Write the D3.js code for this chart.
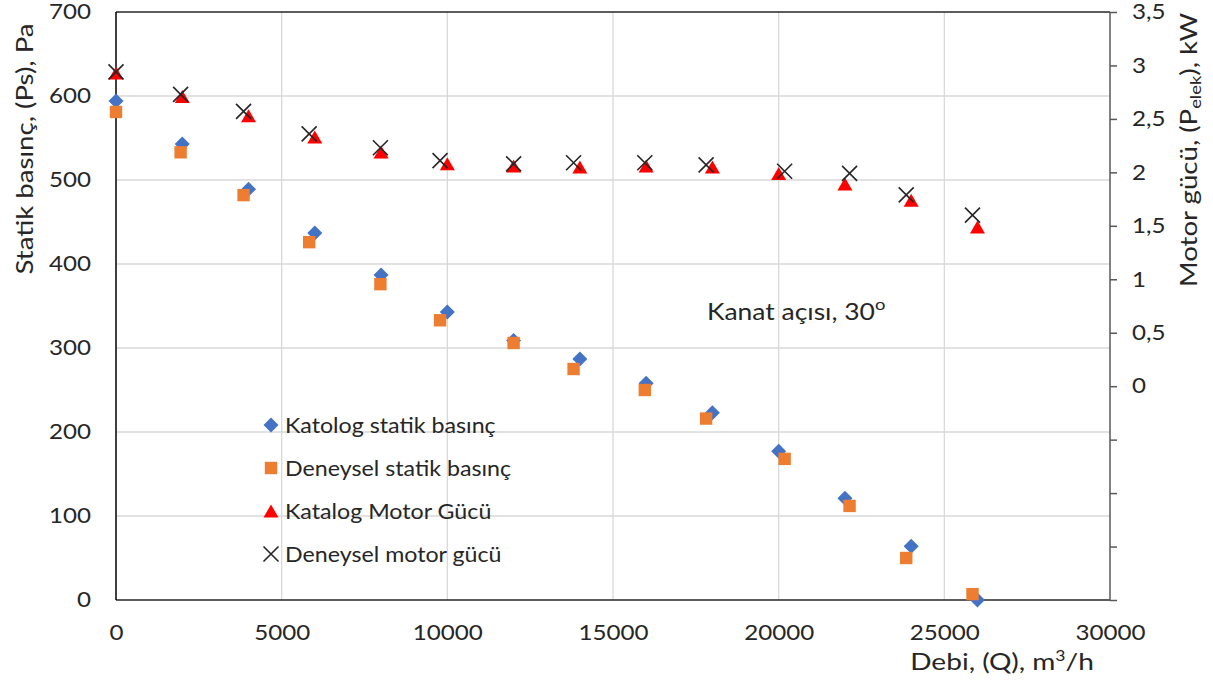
<!DOCTYPE html>
<html>
<head>
<meta charset="utf-8">
<script src="https://cdn.jsdelivr.net/npm/d3@7"></script>
<style>
  html, body { margin: 0; padding: 0; background: #fff; }
  svg { display: block; }
  text { font-family: Lato, "Open Sans", sans-serif; fill: #262626; }
</style>
</head>
<body>
<svg id="chart" width="1213" height="683"></svg>
<script>
// Flow rate (m3/h) for the catalogue points and the measured points
const qKatalog = [0, 2000, 4000, 6000, 8000, 10000, 12000, 14000, 16000, 18000, 20000, 22000, 24000, 26000];
const qDeney   = [0, 1950, 3850, 5830, 7980, 9780, 12000, 13810, 15960, 17810, 20180, 22140, 23850, 25850];

// Static pressure, Pa (left axis)
const psKatalog = [594, 543, 489, 437, 387, 343, 309, 287, 258, 223, 177, 121, 64, 0];
const psDeney   = [581, 533, 482, 426, 376, 333, 306, 275, 250, 216, 168, 112, 50, 7];

// Motor power, kW (right axis)
const pwKatalog = [2.93, 2.71, 2.53, 2.33, 2.19, 2.08, 2.06, 2.05, 2.06, 2.05, 1.99, 1.89, 1.74, 1.49];
const pwDeney   = [2.94, 2.73, 2.57, 2.36, 2.23, 2.11, 2.08, 2.09, 2.09, 2.07, 2.01, 1.99, 1.79, 1.60];

// Axis ticks
const xTicks  = [0, 5000, 10000, 15000, 20000, 25000, 30000];
const yLTicks = [0, 100, 200, 300, 400, 500, 600, 700];
const yRTicks = [-2, -1.5, -1, -0.5, 0, 0.5, 1, 1.5, 2, 2.5, 3, 3.5];

// Legend entries
const legendLabels = ["Katolog statik basınç", "Deneysel statik basınç", "Katalog Motor Gücü", "Deneysel motor gücü"];

const svg = d3.select("#chart");
const L = 116, R = 1110, T = 12, B = 600;

const x  = d3.scaleLinear().domain([0, 30000]).range([L, R]);
const yL = d3.scaleLinear().domain([0, 700]).range([B, T]);
const yR = d3.scaleLinear().domain([-2, 3.5]).range([B, T]);

// widen glyphs horizontally
function stretch(sel, k) {
  sel.each(function () {
    const w = this.getComputedTextLength();
    this.setAttribute("textLength", w * k);
    this.setAttribute("lengthAdjust", "spacingAndGlyphs");
  });
}

// gridlines
const grid = svg.append("g").attr("stroke", "#d9d9d9").attr("stroke-width", 1.3);
grid.selectAll("line.h").data(yLTicks.filter(v => v > 0 && v < 700)).join("line")
  .attr("x1", L).attr("x2", R).attr("y1", d => yL(d)).attr("y2", d => yL(d));
grid.selectAll("line.v").data(xTicks.filter(v => v > 0 && v < 30000)).join("line")
  .attr("x1", d => x(d)).attr("x2", d => x(d)).attr("y1", T).attr("y2", B);

// axes
const fmtR = v => (v < 0 ? "" : String(v).replace(".", ","));

const gx = svg.append("g").attr("transform", `translate(0,${B})`)
  .call(d3.axisBottom(x).tickValues(xTicks).tickSize(0).tickPadding(25).tickFormat(d3.format("d")));
const gl = svg.append("g").attr("transform", `translate(${L},0)`)
  .call(d3.axisLeft(yL).tickValues(yLTicks).tickSize(0).tickPadding(25).tickFormat(d3.format("d")));
const gr = svg.append("g").attr("transform", `translate(${R},0)`)
  .call(d3.axisRight(yR).tickValues(yRTicks).tickSize(7).tickPadding(15).tickFormat(fmtR));

[gx, gl, gr].forEach(g => {
  g.select(".domain").remove();
  g.selectAll("text").attr("font-size", 21).attr("fill", "#262626").attr("font-family", "Lato");
});
gr.selectAll(".tick line").attr("stroke", "#595959").attr("stroke-width", 1.5);
[gx, gl, gr].forEach(g => stretch(g.selectAll("text"), 1.15));

// plot frame
svg.append("line").attr("x1", L).attr("x2", R).attr("y1", T).attr("y2", T).attr("stroke", "#262626").attr("stroke-width", 1.5);
svg.append("line").attr("x1", L).attr("x2", R).attr("y1", B).attr("y2", B).attr("stroke", "#262626").attr("stroke-width", 1.5);
svg.append("line").attr("x1", L).attr("x2", L).attr("y1", T).attr("y2", B).attr("stroke", "#000").attr("stroke-width", 1.5);
svg.append("line").attr("x1", R).attr("x2", R).attr("y1", T).attr("y2", B).attr("stroke", "#595959").attr("stroke-width", 1.5);

// marker shapes (centred on the data point)
const diamond  = s => `M0,${-s}L${s},0L0,${s}L${-s},0Z`;
const square   = s => `M${-s},${-s}H${s}V${s}H${-s}Z`;
const triangle = (w, h) => `M0,${-h / 2}L${w / 2},${h / 2}L${-w / 2},${h / 2}Z`;
const cross    = s => `M${-s},${-s}L${s},${s}M${s},${-s}L${-s},${s}`;

const series = [
  { q: qKatalog, v: psKatalog, y: yL, path: diamond(7.5), fill: "#4472C4", stroke: "none" },
  { q: qDeney,   v: psDeney,   y: yL, path: square(6.2),  fill: "#ED7D31", stroke: "none" },
  { q: qKatalog, v: pwKatalog, y: yR, path: triangle(15, 13), fill: "#FF0000", stroke: "none" },
  { q: qDeney,   v: pwDeney,   y: yR, path: cross(7.5),   fill: "none", stroke: "#262626" }
];

series.forEach(s => {
  svg.append("g").selectAll("path").data(s.v).join("path")
    .attr("d", s.path)
    .attr("transform", (d, i) => `translate(${x(s.q[i])},${s.y(d)})`)
    .attr("fill", s.fill)
    .attr("stroke", s.stroke)
    .attr("stroke-width", 1.6);
});

// legend
const legendY = [425, 468, 511, 554];
const lg = svg.append("g");
series.forEach((s, i) => {
  lg.append("path").attr("d", s.path)
    .attr("transform", `translate(271,${legendY[i]})`)
    .attr("fill", s.fill).attr("stroke", s.stroke).attr("stroke-width", 1.6);
  lg.append("text").attr("x", 285).attr("y", legendY[i]).attr("dy", "0.36em")
    .attr("font-size", 22).text(legendLabels[i]);
});
stretch(lg.selectAll("text"), 1.055);

// annotation
const ann = svg.append("text").attr("transform", "translate(707,320) scale(1.15,1)").attr("font-size", 23);
ann.append("tspan").text("Kanat açısı, 30");
ann.append("tspan").attr("font-size", 16).attr("dy", -10).text("o");

// axis titles
const xt = svg.append("text").attr("transform", "translate(1002,670) scale(1.17,1)")
  .attr("text-anchor", "middle").attr("font-size", 24);
xt.append("tspan").text("Debi, (Q), m");
xt.append("tspan").attr("font-size", 15).attr("dy", -9).text("3");
xt.append("tspan").attr("dy", 9).text("/h");

svg.append("text")
  .attr("transform", "translate(33,149) rotate(-90) scale(1.15,1)")
  .attr("text-anchor", "middle").attr("font-size", 24)
  .text("Statik basınç, (Ps), Pa");

const rt = svg.append("text")
  .attr("transform", "translate(1197,150) rotate(-90) scale(1.15,1)")
  .attr("text-anchor", "middle").attr("font-size", 24);
rt.append("tspan").text("Motor gücü, (P");
rt.append("tspan").attr("font-size", 16).attr("dy", 4).text("elek");
rt.append("tspan").attr("dy", -4).text("), kW");
</script>
</body>
</html>
